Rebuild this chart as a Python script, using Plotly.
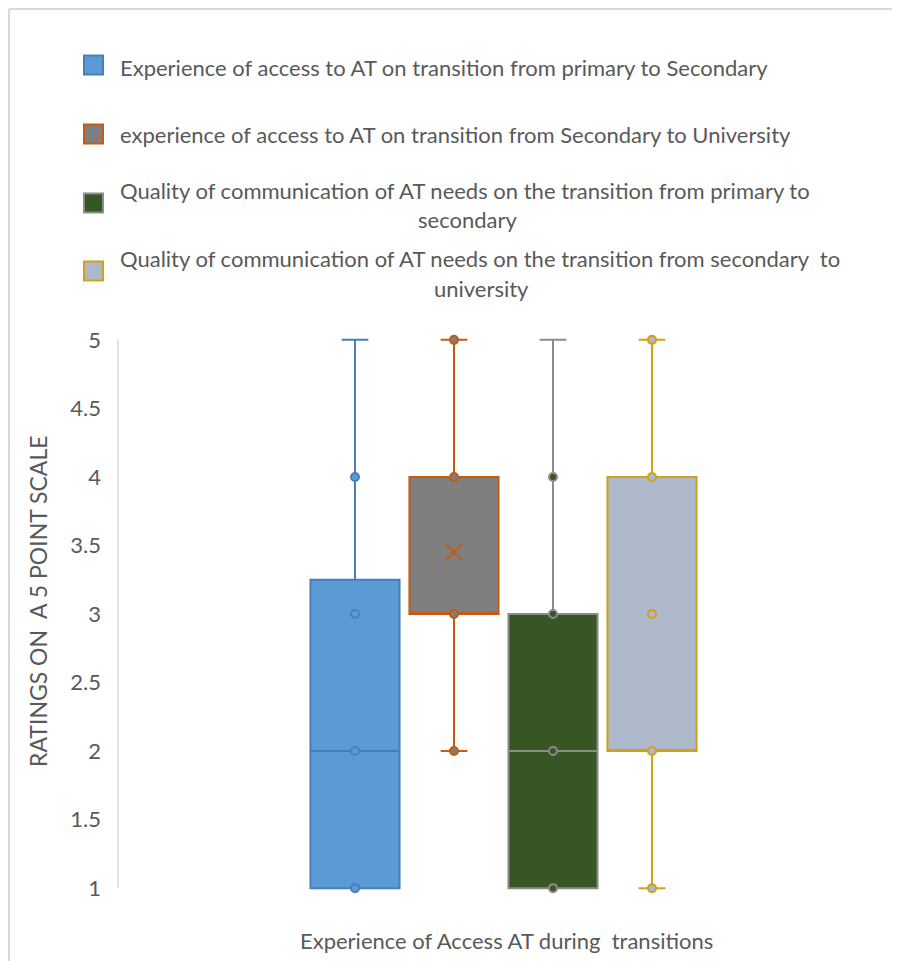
import plotly.graph_objects as go

# ---------------- data ----------------
series_names = [
    "Experience of access to AT on transition from primary to Secondary",
    "experience of access to AT on transition from Secondary to University",
    "Quality of communication of AT needs on the transition from primary to|secondary",
    "Quality of communication of AT needs on the transition from secondary  to|university",
]
q1_vals = [1, 3, 1, 2]
median_vals = [2, 3, 2, 2]
q3_vals = [3.25, 4, 3, 4]
lower_vals = [1, 2, 1, 1]
upper_vals = [5, 5, 5, 5]
mean_vals = [None, 3.45, None, None]
points = [
    [1, 2, 3, 4],
    [2, 3, 4, 5],
    [1, 2, 3, 4],
    [1, 2, 3, 4, 5],
]
y_ticks = [1, 1.5, 2, 2.5, 3, 3.5, 4, 4.5, 5]
y_title = "RATINGS ON  A 5 POINT SCALE"
x_title = "Experience of Access AT during  transitions"

# ---------------- style ----------------
fills = ["#5B9BD5", "#7F7F7F", "#375623", "#ADB9CA"]
lines = ["#4A7EBB", "#C55A11", "#8C8C8C", "#D4A017"]
FONT = "Lato"
TXT = "#595959"
FS = 22

OFF = 8                      # page body margin
W, H = 900, 961 - OFF
ML, MR, MT, MB = 110, 14, 325, 66
PW, PH = W - ML - MR, H - MT - MB


def px(x):  # reference-page x pixel -> paper
    return (x - OFF - ML) / PW


def py(y):  # reference-page y pixel -> paper
    return (H - MB - (y - OFF)) / PH


fig = go.Figure()
for i in range(4):
    fig.add_trace(go.Box(
        x=[i], q1=[q1_vals[i]], median=[median_vals[i]], q3=[q3_vals[i]],
        lowerfence=[lower_vals[i]], upperfence=[upper_vals[i]],
        width=0.9, whiskerwidth=0.3, fillcolor=fills[i],
        line=dict(color=lines[i], width=2), boxpoints=False,
        showlegend=False, hoverinfo="skip",
    ))
for i in range(4):
    fig.add_trace(go.Scatter(
        x=[i] * len(points[i]), y=points[i], mode="markers", cliponaxis=False,
        marker=dict(symbol="circle", size=8, color=fills[i],
                    line=dict(color=lines[i], width=2)),
        showlegend=False,
    ))
    if mean_vals[i] is not None:
        fig.add_trace(go.Scatter(
            x=[i], y=[mean_vals[i]], mode="markers", cliponaxis=False,
            marker=dict(symbol="x-thin", size=16,
                        line=dict(color=lines[i], width=2)),
            showlegend=False,
        ))

# legend (manual, centred wrapped text like the original)
leg_y = [[67], [135], [190, 219], [258, 288]]
swatch_y = [65, 134, 203, 271]
second_center = [None, None, 467, 481]
annotations = []
shapes = []
for i, name in enumerate(series_names):
    parts = name.split("|")
    ys = leg_y[i]
    annotations.append(dict(
        x=px(118), y=py(ys[0]), xref="paper", yref="paper", text=parts[0],
        xanchor="left", yanchor="middle", showarrow=False,
        font=dict(family=FONT, size=FS, color=TXT)))
    if len(parts) > 1:
        annotations.append(dict(
            x=px(second_center[i]), y=py(ys[1]), xref="paper", yref="paper",
            text=parts[1], xanchor="center", yanchor="middle", showarrow=False,
            font=dict(family=FONT, size=FS, color=TXT)))
    cy = swatch_y[i]
    shapes.append(dict(
        type="rect", xref="paper", yref="paper",
        x0=px(84), x1=px(103), y0=py(cy + 9.5), y1=py(cy - 9.5),
        fillcolor=fills[i], line=dict(color=lines[i], width=2)))

# axis titles
annotations.append(dict(
    x=px(38), y=py(601), xref="paper", yref="paper", text=y_title,
    textangle=-90, xanchor="center", yanchor="middle", showarrow=False,
    font=dict(family=FONT, size=23, color=TXT)))
annotations.append(dict(
    x=px(506), y=py(940), xref="paper", yref="paper", text=x_title,
    xanchor="center", yanchor="middle", showarrow=False,
    font=dict(family=FONT, size=FS, color=TXT)))

# value axis line (from 1 to 5)
shapes.append(dict(type="line", xref="paper", yref="y", x0=0, x1=0,
                   y0=y_ticks[0], y1=y_ticks[-1],
                   line=dict(color="#D9D9D9", width=1.5)))
# chart border (cropped)
shapes.append(dict(type="line", xref="paper", yref="paper",
                   x0=px(9), x1=px(920), y0=py(9), y1=py(9),
                   line=dict(color="#D9D9D9", width=2)))
shapes.append(dict(type="line", xref="paper", yref="paper",
                   x0=px(9), x1=px(9), y0=py(9), y1=py(975),
                   line=dict(color="#D9D9D9", width=2)))

fig.update_layout(
    width=W, height=H,
    margin=dict(l=ML, r=MR, t=MT, b=MB, autoexpand=False),
    paper_bgcolor="white", plot_bgcolor="white",
    font=dict(family=FONT, color=TXT),
    xaxis=dict(range=[(118 - 355) / 99, (894 - 355) / 99], showgrid=False,
               zeroline=False, showline=False, showticklabels=False),
    yaxis=dict(range=[0.95, 5.05], tickvals=y_ticks, showgrid=False,
               zeroline=False, showline=False, ticks="",
               ticklabelstandoff=16,
               tickfont=dict(family=FONT, size=FS, color=TXT)),
    annotations=annotations, shapes=shapes,
)

fig.write_html("out.html")
